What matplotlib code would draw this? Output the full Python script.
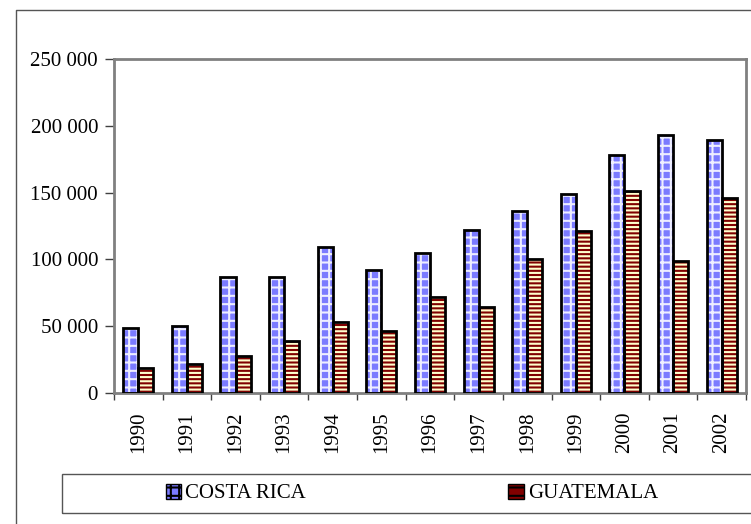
import matplotlib.pyplot as plt
import matplotlib.patches as mpatches
from matplotlib.lines import Line2D
from matplotlib.ticker import FuncFormatter, FixedLocator
import numpy as np

years = ['1990', '1991', '1992', '1993', '1994', '1995', '1996',
         '1997', '1998', '1999', '2000', '2001', '2002']
costa_rica = [48700, 50200, 86800, 86800, 109300, 92000, 104800,
              122000, 136200, 149000, 178100, 193100, 189400]
guatemala = [18700, 21700, 27700, 38900, 53100, 46400, 71900,
             64400, 100300, 121300, 151200, 98800, 146000]
yticks = [0, 50000, 100000, 150000, 200000, 250000]

plt.rcParams['font.family'] = ['Liberation Serif', 'DejaVu Serif']
plt.rcParams['font.size'] = 15
plt.rcParams['hatch.linewidth'] = 1.5

W, H = 751, 524
fig = plt.figure(figsize=(W / 100, H / 100), dpi=100)
ax = fig.add_axes([114 / W, 1 - 393 / H, (746 - 114) / W, (393 - 59) / H])

x = np.arange(len(years))
bw = 0.31
cr_face = '#7b7bff'
gu_face = '#800000'

# fill + hatch first (edge colour = hatch colour, no outline), then black outline
ax.bar(x - bw / 2, costa_rica, bw, color=cr_face, edgecolor='#eeeeff',
       hatch='++', linewidth=0, zorder=2)
ax.bar(x + bw / 2, guatemala, bw, color=gu_face, edgecolor='#ffffcc',
       hatch='----', linewidth=0, zorder=2)
ax.bar(x - bw / 2, costa_rica, bw, fill=False, edgecolor='black',
       linewidth=2, zorder=3)
ax.bar(x + bw / 2, guatemala, bw, fill=False, edgecolor='black',
       linewidth=2, zorder=3)

ax.set_xlim(-0.5, len(years) - 0.5)
ax.set_ylim(0, 250000)
ax.set_yticks(yticks)
ax.yaxis.set_major_formatter(FuncFormatter(lambda v, p: f'{v:,.0f}'.replace(',', ' ')))
ax.set_xticks(x)
ax.set_xticklabels(years, rotation=90)
ax.xaxis.set_minor_locator(FixedLocator(np.arange(-0.5, len(years), 1.0)))
ax.tick_params(axis='x', which='major', length=0, pad=13)
ax.tick_params(axis='x', which='minor', length=5, width=1, color='#404040', direction='out')
ax.tick_params(axis='y', length=6.5, width=1, color='#404040', pad=5)

for s in ax.spines.values():
    s.set_color('#808080')
    s.set_linewidth(2)

# outer chart frame
fig.add_artist(Line2D([16 / W, 16 / W, 1.02], [-0.02, 1 - 10 / H, 1 - 10 / H],
                      transform=fig.transFigure, color='#555555', linewidth=1))

# legend box
fig.add_artist(mpatches.Rectangle((62 / W, 1 - 513 / H), 1.0, 39 / H,
                                  transform=fig.transFigure, fill=False,
                                  edgecolor='#555555', linewidth=1))
handles = [mpatches.Patch(facecolor=cr_face, edgecolor='black', hatch='++', label='COSTA RICA'),
           mpatches.Patch(facecolor=gu_face, edgecolor='black', hatch='--', label='GUATEMALA')]
fig.legend(handles=handles, ncol=2, loc='center', bbox_to_anchor=(412 / W, 1 - 493.5 / H),
           frameon=False, handlelength=0.75, handleheight=0.75, handletextpad=0.2,
           columnspacing=9.7, fontsize=15, borderpad=0)

fig.savefig('out.png', dpi=100)
